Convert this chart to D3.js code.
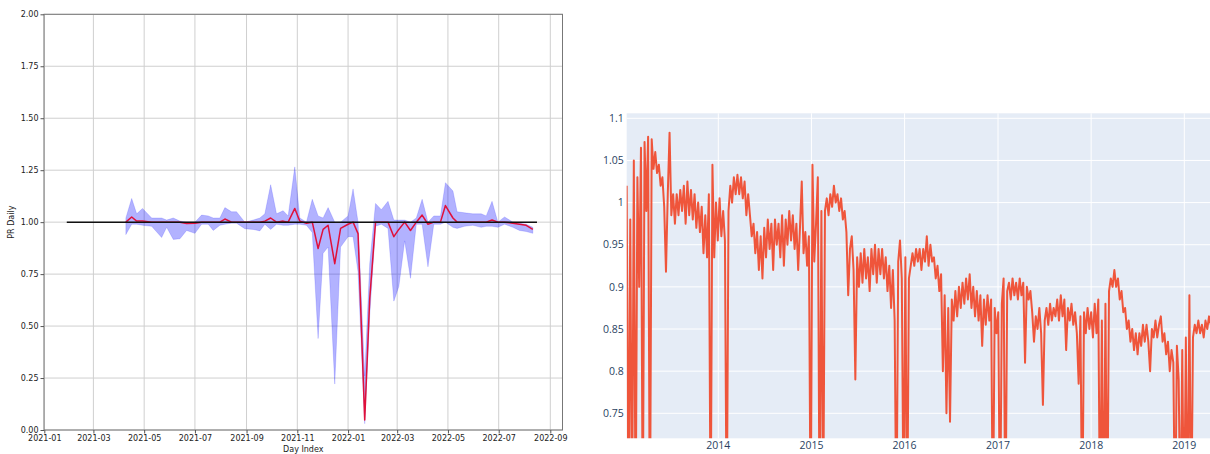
<!DOCTYPE html>
<meta charset="utf-8">
<style>
body { margin: 0; background: #fff; }
svg { display: block; }
.mpl text { font: 8px "DejaVu Sans", sans-serif; fill: #222; }
.mpl .tick line { stroke: #555; }
.mpl .domain { display: none; }
.plt text { font: 10.5px "Open Sans", sans-serif; fill: #2a3f5f; }
</style>
<body>
<script src="https://cdn.jsdelivr.net/npm/d3@7"></script>
<script>

// ---- left chart: weekly PR with min/max band ----
var weekDates = ["2021-04-09","2021-04-16","2021-04-22","2021-04-29","2021-05-10","2021-05-22","2021-05-28","2021-06-05","2021-06-13","2021-06-21",
  "2021-07-01","2021-07-09","2021-07-17","2021-07-23","2021-07-31","2021-08-06","2021-08-14","2021-08-20","2021-08-30","2021-09-09",
  "2021-09-17","2021-09-23","2021-09-30","2021-10-07","2021-10-15","2021-10-21","2021-10-29","2021-11-04","2021-11-12","2021-11-19",
  "2021-11-26","2021-12-02","2021-12-08","2021-12-16","2021-12-23","2022-01-01","2022-01-07","2022-01-13","2022-01-21","2022-01-27",
  "2022-02-03","2022-02-10","2022-02-18","2022-02-25","2022-03-03","2022-03-10","2022-03-17","2022-03-24","2022-03-31","2022-04-07",
  "2022-04-14","2022-04-22","2022-04-28","2022-05-07","2022-05-12","2022-05-21","2022-05-31","2022-06-10","2022-06-16","2022-06-23",
  "2022-06-30","2022-07-08","2022-07-18","2022-07-26","2022-08-03","2022-08-11"];
var prMean = [1.00,1.025,1.005,1.005,1.0,1.0,1.0,1.0,1.0,0.993,
  0.995,1.0,1.0,1.0,1.0,1.015,1.0,1.0,1.0,1.0,
  1.0,1.005,1.02,1.0,1.005,1.0,1.066,1.005,0.995,1.0,
  0.873,0.965,0.985,0.80,0.97,0.99,1.0,0.945,0.048,0.63,
  1.0,1.0,1.0,0.93,0.965,1.0,0.96,1.0,1.034,0.99,
  1.0,1.0,1.08,1.02,1.0,1.0,1.0,1.0,1.0,1.01,
  1.0,1.0,0.995,0.99,0.985,0.965];
var prLow = [0.94,0.99,0.99,0.985,0.98,0.926,0.975,0.917,0.92,0.96,
  0.946,0.99,0.99,0.96,0.985,0.99,0.995,0.995,0.968,0.965,
  0.958,0.99,0.965,0.99,0.985,0.985,0.99,0.99,0.985,0.95,
  0.44,0.85,0.88,0.221,0.88,0.93,0.93,0.76,0.03,0.55,
  0.98,0.99,0.97,0.62,0.69,0.91,0.73,0.99,0.99,0.785,
  0.99,0.99,1.0,0.975,0.97,0.98,0.985,0.975,0.98,0.98,
  0.975,0.99,0.975,0.96,0.955,0.946];
var prHigh = [1.02,1.114,1.04,1.066,1.02,1.02,1.01,1.02,1.005,1.0,
  1.0,1.034,1.03,1.02,1.02,1.07,1.05,1.05,1.0,1.01,
  1.02,1.04,1.18,1.04,1.055,1.03,1.266,1.02,1.0,1.11,
  1.03,1.02,1.07,1.0,1.0,1.03,1.16,1.0,0.26,0.8,
  1.09,1.06,1.1,1.01,1.01,1.01,1.0,1.02,1.11,1.0,
  1.03,1.03,1.19,1.15,1.05,1.045,1.04,1.04,1.03,1.1,
  1.0,1.025,1.0,0.995,0.99,0.975];
var refLine = {start: "2021-01-28", end: "2022-08-16", value: 1.0};
var leftYTicks = [0, 0.25, 0.5, 0.75, 1.0, 1.25, 1.5, 1.75, 2.0];

// ---- right chart: long daily PR history (sampled weekly) ----
var histStart = "2013-01-07";
var histStepDays = 7;
var histValues = [
  1.02,0.6,0.98,0.6,1.05,0.6,1.03,0.90,1.065,0.6,
  1.072,0.99,1.078,0.58,1.075,1.04,1.06,1.035,1.045,1.02,
  1.03,0.995,0.918,1.01,1.083,0.985,1.01,0.975,1.01,0.985,
  1.015,0.99,1.02,0.975,1.025,0.985,1.015,0.98,1.01,0.97,
  1.0,0.965,0.995,0.94,0.985,0.935,1.01,0.6,1.045,0.935,
  1.0,0.955,1.005,0.96,0.99,0.955,0.6,0.99,1.02,1.0,
  1.03,1.01,1.033,1.01,1.03,1.005,1.025,0.985,1.01,0.985,
  0.96,0.975,0.94,0.965,0.92,0.96,0.91,0.97,0.935,0.98,
  0.945,0.975,0.92,0.98,0.95,0.975,0.935,0.985,0.925,0.98,
  0.95,0.99,0.955,0.985,0.945,0.975,0.92,0.97,1.025,0.94,
  0.965,0.925,0.96,0.6,1.045,0.93,0.975,1.03,0.6,0.99,
  0.62,0.99,1.005,0.985,1.01,0.995,1.02,1.0,1.01,0.99,
  1.005,0.98,0.99,0.965,0.89,0.945,0.96,0.92,0.79,0.935,
  0.9,0.94,0.905,0.945,0.91,0.935,0.895,0.945,0.915,0.95,
  0.905,0.945,0.915,0.945,0.91,0.935,0.895,0.925,0.875,0.92,
  0.86,0.6,0.93,0.955,0.91,0.62,0.935,0.6,0.91,0.925,
  0.94,0.925,0.945,0.93,0.945,0.92,0.945,0.93,0.96,0.925,
  0.95,0.93,0.935,0.91,0.925,0.895,0.915,0.80,0.89,0.75,
  0.875,0.74,0.885,0.86,0.895,0.865,0.9,0.875,0.905,0.88,
  0.91,0.885,0.915,0.875,0.9,0.865,0.895,0.86,0.89,0.83,
  0.885,0.855,0.89,0.86,0.885,0.6,0.875,0.845,0.87,0.6,
  0.88,0.91,0.6,0.895,0.905,0.885,0.91,0.89,0.905,0.885,
  0.91,0.89,0.905,0.81,0.9,0.885,0.895,0.87,0.835,0.865,
  0.85,0.875,0.845,0.76,0.86,0.875,0.855,0.88,0.86,0.875,
  0.865,0.885,0.86,0.89,0.865,0.885,0.825,0.875,0.86,0.88,
  0.855,0.87,0.845,0.785,0.865,0.6,0.87,0.845,0.875,0.85,
  0.87,0.84,0.88,0.845,0.885,0.6,0.86,0.6,0.88,0.6,
  0.895,0.91,0.9,0.92,0.9,0.91,0.885,0.895,0.87,0.875,
  0.85,0.86,0.835,0.85,0.825,0.845,0.82,0.845,0.83,0.855,
  0.835,0.855,0.835,0.80,0.85,0.84,0.86,0.84,0.855,0.865,
  0.835,0.845,0.82,0.835,0.80,0.825,0.81,0.6,0.83,0.79,
  0.6,0.825,0.6,0.84,0.6,0.89,0.6,0.84,0.855,0.845,
  0.86,0.845,0.855,0.84,0.86,0.85,0.865,0.855,0.87];
var rightYTicks = [0.75, 0.8, 0.85, 0.9, 0.95, 1.0, 1.05, 1.1];
var rightYLabels = ["0.75", "0.8", "0.85", "0.9", "0.95", "1", "1.05", "1.1"];
var rightXTicks = ["2014-01-01", "2015-01-01", "2016-01-01", "2017-01-01", "2018-01-01", "2019-01-01"];

var parse = d3.utcParse("%Y-%m-%d");

var svg = d3.select("body").append("svg")
    .attr("width", 1210)
    .attr("height", 454);

// ================= left =================
var L = {left: 44, right: 562.5, top: 14.3, bottom: 430};

var x = d3.scaleUtc()
    .domain([parse("2021-01-01"), parse("2022-09-01")])
    .range([44.3, 550.3]);

var y = d3.scaleLinear()
    .domain([0, 2])
    .range([L.bottom, L.top]);

var left = svg.append("g").attr("class", "mpl");

var xTicks = x.ticks(d3.utcMonth.every(2)).filter(function(d) { return x(d) <= L.right; });

left.append("g").selectAll("line")
    .data(xTicks)
  .enter().append("line")
    .attr("x1", function(d) { return x(d); })
    .attr("x2", function(d) { return x(d); })
    .attr("y1", L.top)
    .attr("y2", L.bottom)
    .attr("stroke", "#cfcfcf")
    .attr("stroke-width", 1);

left.append("g").selectAll("line")
    .data(leftYTicks)
  .enter().append("line")
    .attr("x1", L.left)
    .attr("x2", L.right)
    .attr("y1", function(d) { return y(d); })
    .attr("y2", function(d) { return y(d); })
    .attr("stroke", "#cfcfcf")
    .attr("stroke-width", 1);

var rows = weekDates.map(function(d, i) {
  return {date: parse(d), mean: prMean[i], low: prLow[i], high: prHigh[i]};
});

left.append("path")
    .datum(rows)
    .attr("fill", "#0000ff")
    .attr("fill-opacity", 0.3)
    .attr("stroke", "#0000ff")
    .attr("stroke-opacity", 0.15)
    .attr("stroke-width", 1)
    .attr("d", d3.area()
        .x(function(d) { return x(d.date); })
        .y0(function(d) { return y(d.low); })
        .y1(function(d) { return y(d.high); }));

left.append("path")
    .datum(rows)
    .attr("fill", "none")
    .attr("stroke", "#e0103a")
    .attr("stroke-width", 1.5)
    .attr("stroke-linejoin", "round")
    .attr("d", d3.line()
        .x(function(d) { return x(d.date); })
        .y(function(d) { return y(d.mean); }));

left.append("line")
    .attr("x1", x(parse(refLine.start)))
    .attr("x2", x(parse(refLine.end)))
    .attr("y1", y(refLine.value))
    .attr("y2", y(refLine.value))
    .attr("stroke", "#111")
    .attr("stroke-width", 1.5);

// spines
left.append("rect")
    .attr("x", L.left)
    .attr("y", L.top)
    .attr("width", L.right - L.left)
    .attr("height", L.bottom - L.top)
    .attr("fill", "none")
    .attr("stroke", "#777")
    .attr("stroke-width", 1);

left.append("g")
    .attr("transform", "translate(0," + L.bottom + ")")
    .call(d3.axisBottom(x).tickValues(xTicks).tickFormat(d3.utcFormat("%Y-%m")).tickSize(3.5).tickPadding(2));

left.append("g")
    .attr("transform", "translate(" + L.left + ",0)")
    .call(d3.axisLeft(y).tickValues(leftYTicks).tickFormat(d3.format(".2f")).tickSize(3.5).tickPadding(2));

left.append("text")
    .attr("x", (L.left + L.right) / 2)
    .attr("y", 452)
    .attr("text-anchor", "middle")
    .text("Day Index");

left.append("text")
    .attr("transform", "translate(14," + y(1) + ") rotate(-90)")
    .attr("text-anchor", "middle")
    .text("PR Daily");

// ================= right =================
var R = {left: 626.7, right: 1230, top: 113.3, bottom: 438.3};

var x2 = d3.scaleUtc()
    .domain([parse("2014-01-01"), parse("2019-01-01")])
    .range([718.3, 1184.3]);

var y2 = d3.scaleLinear()
    .domain([0.75, 1.1])
    .range([413.3, 118.3]);

var right = svg.append("g").attr("class", "plt");

right.append("rect")
    .attr("x", R.left)
    .attr("y", R.top)
    .attr("width", R.right - R.left)
    .attr("height", R.bottom - R.top)
    .attr("fill", "#e5ecf6");

right.append("g").selectAll("line")
    .data(rightYTicks)
  .enter().append("line")
    .attr("x1", R.left)
    .attr("x2", R.right)
    .attr("y1", function(d) { return y2(d); })
    .attr("y2", function(d) { return y2(d); })
    .attr("stroke", "#fff")
    .attr("stroke-width", 1);

right.append("g").selectAll("line")
    .data(rightXTicks)
  .enter().append("line")
    .attr("x1", function(d) { return x2(parse(d)); })
    .attr("x2", function(d) { return x2(parse(d)); })
    .attr("y1", R.top)
    .attr("y2", R.bottom)
    .attr("stroke", "#fff")
    .attr("stroke-width", 1);

svg.append("clipPath")
    .attr("id", "clipR")
  .append("rect")
    .attr("x", R.left)
    .attr("y", R.top)
    .attr("width", R.right - R.left)
    .attr("height", R.bottom - R.top);

var t0 = parse(histStart);
var hist = histValues.map(function(v, i) {
  return {date: d3.utcDay.offset(t0, i * histStepDays), value: v};
});

right.append("path")
    .datum(hist)
    .attr("clip-path", "url(#clipR)")
    .attr("fill", "none")
    .attr("stroke", "#ef553b")
    .attr("stroke-width", 2)
    .attr("stroke-linejoin", "round")
    .attr("d", d3.line()
        .x(function(d) { return x2(d.date); })
        .y(function(d) { return y2(d.value); }));

right.append("g").selectAll("text")
    .data(rightYTicks)
  .enter().append("text")
    .attr("x", R.left - 3)
    .attr("y", function(d) { return y2(d); })
    .attr("dy", "0.35em")
    .attr("text-anchor", "end")
    .text(function(d, i) { return rightYLabels[i]; });

right.append("g").selectAll("text")
    .data(rightXTicks)
  .enter().append("text")
    .attr("x", function(d) { return x2(parse(d)); })
    .attr("y", 449)
    .attr("text-anchor", "middle")
    .text(function(d) { return d.slice(0, 4); });

</script>
</body>
</html>
